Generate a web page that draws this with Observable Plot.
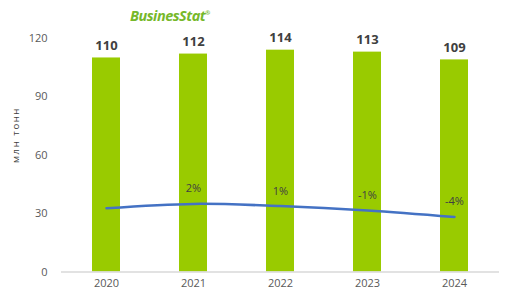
<!DOCTYPE html>
<html><head><meta charset="utf-8">
<script src="https://cdn.jsdelivr.net/npm/d3@7"></script>
<script src="https://cdn.jsdelivr.net/npm/@observablehq/plot@0.6"></script>
<style>
body{margin:0;background:#fff;}
#wrap{position:relative;width:516px;height:289px;overflow:hidden;font-family:"Open Sans",sans-serif;}
#logo{position:absolute;left:130px;top:6px;font:italic bold 14.5px "Open Sans",sans-serif;color:#76b82a;letter-spacing:-0.5px;}
#logo sup{font-size:6px;font-style:normal;}
#ylab{position:absolute;left:15px;top:135px;transform:translate(-50%,-50%) rotate(-90deg);font:9.5px "Open Sans",sans-serif;color:#404040;white-space:nowrap;letter-spacing:1.6px;}
</style></head>
<body><div id="wrap"><div id="chart"></div>
<div id="logo">BusinesStat<sup>®</sup></div>
<div id="ylab">млн тонн</div></div>
<script>
const years = ["2020","2021","2022","2023","2024"];
const volumes = [110, 112, 114, 113, 109];
const growth = [0, 2, 1, -1, -4];
const growthLabels = ["", "2%", "1%", "-1%", "-4%"];
const yTicks = [0, 30, 60, 90, 120];

// secondary axis for growth, mapped into primary units
const g2y = d3.scaleLinear().domain([-4, 2]).range([28.3, 35]);

const bars = years.map((y, i) => ({year: y, v: volumes[i]}));
const line = years.map((y, i) => ({year: y, g: g2y(growth[i]), lab: growthLabels[i]}));

const chart = Plot.plot({
  width: 516, height: 289,
  marginLeft: 61, marginRight: 17, marginTop: 38, marginBottom: 17.5,
  style: {fontFamily: "Open Sans, sans-serif", fontSize: "11px", color: "#595959", background: "#fff"},
  x: {domain: years, paddingInner: 0.68, paddingOuter: 0.34, label: null, tickSize: 0, tickPadding: 7},
  y: {domain: [0, 120], ticks: yTicks, label: null, tickSize: 0, tickPadding: 14, tickFormat: d => d},
  marks: [
    Plot.barY(bars, {x: "year", y: "v", fill: "#99cb00"}),
    Plot.ruleY([0], {stroke: "#d9d9d9", strokeWidth: 1.5}),
    Plot.text(bars, {x: "year", y: "v", text: d => String(d.v), dy: -12, fontWeight: "bold", fontSize: 13, fill: "#404040"}),
    Plot.line(line, {x: "year", y: "g", stroke: "#4472c4", strokeWidth: 2.5, curve: "catmull-rom"}),
    Plot.text(line, {x: "year", y: "g", text: "lab", dy: -15, fontSize: 11, fill: "#404040"})
  ]
});
document.getElementById("chart").appendChild(chart);
</script></body></html>
